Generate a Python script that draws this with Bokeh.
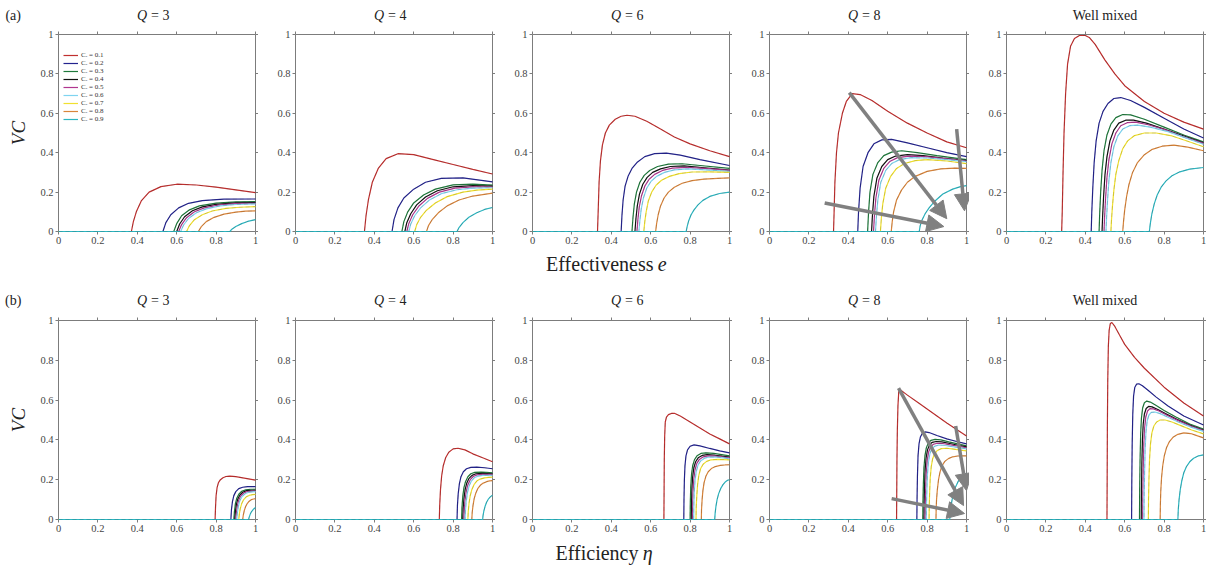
import math
from bokeh.plotting import figure
from bokeh.layouts import row, column
from bokeh.models import (Range1d, FixedTicker, NumeralTickFormatter, LinearAxis,
                          Label, Arrow, NormalHead, Legend, LegendItem)
from bokeh.embed import file_html
from bokeh.resources import INLINE

# ---------------------------------------------------------------- data
CR_VALUES = [0.1, 0.2, 0.3, 0.4, 0.5, 0.6, 0.7, 0.8, 0.9]
CR_COLORS = ["#c0302f", "#23238e", "#1f7a3c", "#111111", "#b0368f",
             "#7fd4f0", "#f0e030", "#d9853b", "#2cb5c0"]
TICKS = [0, 0.2, 0.4, 0.6, 0.8, 1]
PANEL_Q = ["3", "4", "6", "8", None]

# (a) VC against effectiveness e, one list per C_r
EFF_Q3_X = [
    [0, 0.37, 0.38, 0.395, 0.42, 0.46, 0.52, 0.6, 0.7, 0.8, 0.9, 1.0],
    [0, 0.53, 0.545, 0.57, 0.61, 0.66, 0.73, 0.84, 1.0],
    [0, 0.585, 0.6, 0.625, 0.665, 0.715, 0.8, 0.9, 1.0],
    [0, 0.60, 0.615, 0.64, 0.68, 0.73, 0.8, 0.9, 1.0],
    [0, 0.61, 0.625, 0.65, 0.69, 0.74, 0.81, 0.9, 1.0],
    [0, 0.62, 0.635, 0.66, 0.70, 0.75, 0.82, 0.9, 1.0],
    [0, 0.65, 0.665, 0.69, 0.73, 0.78, 0.85, 0.92, 1.0],
    [0, 0.71, 0.725, 0.75, 0.79, 0.84, 0.9, 0.95, 1.0],
    [0, 0.87, 0.88, 0.9, 0.93, 0.96, 1.0],
]
EFF_Q3_Y = [
    [0, 0, 0.05, 0.1, 0.155, 0.2, 0.228, 0.24, 0.236, 0.225, 0.211, 0.197],
    [0, 0, 0.045, 0.085, 0.12, 0.143, 0.157, 0.164, 0.165],
    [0, 0, 0.04, 0.08, 0.11, 0.13, 0.144, 0.15, 0.152],
    [0, 0, 0.038, 0.075, 0.105, 0.125, 0.138, 0.145, 0.147],
    [0, 0, 0.035, 0.07, 0.1, 0.12, 0.134, 0.141, 0.143],
    [0, 0, 0.033, 0.066, 0.095, 0.115, 0.13, 0.137, 0.14],
    [0, 0, 0.03, 0.06, 0.085, 0.104, 0.117, 0.123, 0.126],
    [0, 0, 0.025, 0.05, 0.072, 0.088, 0.098, 0.103, 0.105],
    [0, 0, 0.012, 0.025, 0.04, 0.051, 0.06],
]

EFF_Q4_X = [
    [0, 0.35, 0.358, 0.37, 0.39, 0.42, 0.46, 0.52, 0.6, 0.7, 0.8, 0.9, 1.0],
    [0, 0.49, 0.5, 0.52, 0.55, 0.6, 0.66, 0.74, 0.85, 1.0],
    [0, 0.54, 0.55, 0.57, 0.6, 0.65, 0.71, 0.8, 0.9, 1.0],
    [0, 0.555, 0.565, 0.585, 0.615, 0.66, 0.72, 0.8, 0.9, 1.0],
    [0, 0.565, 0.575, 0.595, 0.625, 0.67, 0.73, 0.81, 0.9, 1.0],
    [0, 0.575, 0.585, 0.605, 0.635, 0.68, 0.74, 0.82, 0.9, 1.0],
    [0, 0.605, 0.615, 0.635, 0.665, 0.71, 0.77, 0.85, 0.92, 1.0],
    [0, 0.665, 0.675, 0.695, 0.725, 0.77, 0.83, 0.9, 1.0],
    [0, 0.82, 0.83, 0.85, 0.88, 0.92, 0.96, 1.0],
]
EFF_Q4_Y = [
    [0, 0, 0.08, 0.16, 0.25, 0.32, 0.37, 0.395, 0.39, 0.365, 0.34, 0.315, 0.292],
    [0, 0, 0.06, 0.12, 0.17, 0.215, 0.25, 0.27, 0.272, 0.252],
    [0, 0, 0.05, 0.1, 0.145, 0.185, 0.215, 0.237, 0.24, 0.235],
    [0, 0, 0.045, 0.09, 0.135, 0.175, 0.207, 0.227, 0.233, 0.23],
    [0, 0, 0.04, 0.085, 0.128, 0.168, 0.2, 0.22, 0.227, 0.226],
    [0, 0, 0.038, 0.08, 0.12, 0.16, 0.192, 0.212, 0.22, 0.222],
    [0, 0, 0.034, 0.072, 0.108, 0.145, 0.177, 0.2, 0.21, 0.215],
    [0, 0, 0.03, 0.062, 0.095, 0.13, 0.16, 0.18, 0.195],
    [0, 0, 0.02, 0.045, 0.072, 0.095, 0.112, 0.122],
]

EFF_Q6_X = [
    [0, 0.33, 0.334, 0.338, 0.345, 0.355, 0.37, 0.39, 0.42, 0.45, 0.48, 0.52, 0.58, 0.65, 0.72, 0.8, 0.9, 1.0],
    [0, 0.45, 0.454, 0.46, 0.47, 0.485, 0.505, 0.53, 0.57, 0.62, 0.68, 0.75, 0.85, 1.0],
    [0, 0.505, 0.51, 0.517, 0.528, 0.545, 0.567, 0.595, 0.635, 0.69, 0.76, 0.85, 1.0],
    [0, 0.52, 0.525, 0.532, 0.543, 0.56, 0.582, 0.61, 0.65, 0.7, 0.77, 0.86, 1.0],
    [0, 0.53, 0.535, 0.542, 0.553, 0.57, 0.592, 0.62, 0.66, 0.71, 0.78, 0.87, 1.0],
    [0, 0.54, 0.545, 0.552, 0.563, 0.58, 0.602, 0.63, 0.67, 0.72, 0.79, 0.88, 1.0],
    [0, 0.565, 0.57, 0.577, 0.588, 0.605, 0.627, 0.655, 0.695, 0.745, 0.81, 0.9, 1.0],
    [0, 0.625, 0.63, 0.638, 0.65, 0.668, 0.69, 0.72, 0.76, 0.81, 0.87, 0.94, 1.0],
    [0, 0.78, 0.785, 0.793, 0.805, 0.82, 0.84, 0.865, 0.9, 0.95, 1.0],
]
EFF_Q6_Y = [
    [0, 0, 0.12, 0.25, 0.36, 0.44, 0.5, 0.54, 0.57, 0.585, 0.59, 0.585, 0.56, 0.52, 0.48, 0.445, 0.41, 0.38],
    [0, 0, 0.08, 0.16, 0.23, 0.28, 0.32, 0.35, 0.38, 0.395, 0.398, 0.388, 0.365, 0.335],
    [0, 0, 0.07, 0.14, 0.2, 0.25, 0.285, 0.31, 0.33, 0.342, 0.344, 0.335, 0.32],
    [0, 0, 0.065, 0.13, 0.19, 0.24, 0.275, 0.3, 0.318, 0.33, 0.333, 0.325, 0.312],
    [0, 0, 0.06, 0.125, 0.18, 0.23, 0.265, 0.29, 0.31, 0.322, 0.326, 0.32, 0.31],
    [0, 0, 0.055, 0.115, 0.17, 0.22, 0.255, 0.28, 0.3, 0.313, 0.318, 0.313, 0.305],
    [0, 0, 0.05, 0.1, 0.155, 0.2, 0.235, 0.26, 0.28, 0.294, 0.302, 0.303, 0.3],
    [0, 0, 0.04, 0.085, 0.13, 0.17, 0.2, 0.225, 0.245, 0.258, 0.266, 0.27, 0.272],
    [0, 0, 0.025, 0.055, 0.085, 0.11, 0.135, 0.158, 0.178, 0.193, 0.2],
]

EFF_Q8_X = [
    [0, 0.325, 0.328, 0.332, 0.34, 0.35, 0.37, 0.39, 0.42, 0.46, 0.52, 0.6, 0.7, 0.8, 0.9, 1.0],
    [0, 0.448, 0.452, 0.46, 0.475, 0.5, 0.53, 0.57, 0.62, 0.7, 0.8, 0.9, 1.0],
    [0, 0.498, 0.503, 0.51, 0.525, 0.55, 0.58, 0.62, 0.67, 0.75, 0.85, 1.0],
    [0, 0.518, 0.523, 0.53, 0.545, 0.57, 0.6, 0.64, 0.7, 0.78, 0.88, 1.0],
    [0, 0.528, 0.533, 0.54, 0.555, 0.58, 0.61, 0.65, 0.71, 0.79, 0.89, 1.0],
    [0, 0.538, 0.543, 0.55, 0.565, 0.59, 0.62, 0.66, 0.72, 0.8, 0.9, 1.0],
    [0, 0.563, 0.568, 0.575, 0.59, 0.615, 0.645, 0.685, 0.74, 0.8, 0.9, 1.0],
    [0, 0.618, 0.623, 0.63, 0.645, 0.67, 0.7, 0.74, 0.8, 0.87, 0.94, 1.0],
    [0, 0.76, 0.765, 0.775, 0.79, 0.81, 0.84, 0.88, 0.93, 0.97, 1.0],
]
EFF_Q8_Y = [
    [0, 0, 0.1, 0.25, 0.4, 0.5, 0.6, 0.66, 0.7, 0.695, 0.665, 0.61, 0.55, 0.5, 0.455, 0.425],
    [0, 0, 0.1, 0.22, 0.33, 0.4, 0.445, 0.465, 0.468, 0.45, 0.425, 0.4, 0.38],
    [0, 0, 0.1, 0.2, 0.29, 0.35, 0.385, 0.403, 0.41, 0.4, 0.385, 0.365],
    [0, 0, 0.09, 0.18, 0.27, 0.33, 0.365, 0.383, 0.39, 0.385, 0.373, 0.36],
    [0, 0, 0.085, 0.17, 0.26, 0.32, 0.355, 0.375, 0.383, 0.38, 0.37, 0.358],
    [0, 0, 0.08, 0.16, 0.25, 0.31, 0.345, 0.365, 0.375, 0.373, 0.365, 0.355],
    [0, 0, 0.07, 0.14, 0.22, 0.28, 0.32, 0.345, 0.36, 0.365, 0.358, 0.345],
    [0, 0, 0.05, 0.1, 0.16, 0.21, 0.25, 0.28, 0.305, 0.318, 0.322, 0.32],
    [0, 0, 0.03, 0.06, 0.09, 0.12, 0.155, 0.19, 0.215, 0.228, 0.233],
]

EFF_WM_X = [
    [0, 0.28, 0.283, 0.287, 0.292, 0.3, 0.31, 0.325, 0.345, 0.37, 0.4, 0.42, 0.45, 0.5, 0.55, 0.6, 0.7, 0.8, 0.9, 1.0],
    [0, 0.43, 0.433, 0.438, 0.445, 0.455, 0.47, 0.49, 0.515, 0.545, 0.58, 0.63, 0.7, 0.8, 0.9, 1.0],
    [0, 0.47, 0.473, 0.478, 0.485, 0.495, 0.51, 0.53, 0.555, 0.59, 0.63, 0.7, 0.8, 0.9, 1.0],
    [0, 0.485, 0.488, 0.493, 0.5, 0.51, 0.525, 0.545, 0.57, 0.605, 0.645, 0.71, 0.8, 0.9, 1.0],
    [0, 0.495, 0.498, 0.503, 0.51, 0.52, 0.535, 0.555, 0.58, 0.615, 0.655, 0.72, 0.81, 0.9, 1.0],
    [0, 0.505, 0.508, 0.513, 0.52, 0.53, 0.545, 0.565, 0.59, 0.625, 0.665, 0.73, 0.82, 0.91, 1.0],
    [0, 0.53, 0.533, 0.538, 0.545, 0.555, 0.57, 0.59, 0.615, 0.65, 0.7, 0.76, 0.84, 0.92, 1.0],
    [0, 0.59, 0.594, 0.6, 0.61, 0.622, 0.64, 0.665, 0.7, 0.74, 0.79, 0.85, 0.92, 1.0],
    [0, 0.725, 0.73, 0.738, 0.75, 0.765, 0.785, 0.81, 0.84, 0.88, 0.93, 1.0],
]
EFF_WM_Y = [
    [0, 0, 0.1, 0.3, 0.5, 0.7, 0.85, 0.94, 0.98, 0.995, 0.995, 0.985, 0.95, 0.87, 0.8, 0.74, 0.66, 0.6, 0.555, 0.52],
    [0, 0, 0.1, 0.22, 0.35, 0.46, 0.55, 0.61, 0.65, 0.675, 0.68, 0.665, 0.63, 0.575, 0.52, 0.475],
    [0, 0, 0.09, 0.2, 0.31, 0.41, 0.49, 0.545, 0.578, 0.594, 0.592, 0.57, 0.53, 0.49, 0.455],
    [0, 0, 0.08, 0.18, 0.29, 0.38, 0.46, 0.515, 0.55, 0.565, 0.565, 0.55, 0.52, 0.485, 0.45],
    [0, 0, 0.075, 0.17, 0.275, 0.365, 0.445, 0.5, 0.537, 0.553, 0.555, 0.542, 0.515, 0.48, 0.447],
    [0, 0, 0.07, 0.16, 0.26, 0.35, 0.43, 0.485, 0.52, 0.537, 0.54, 0.53, 0.507, 0.475, 0.443],
    [0, 0, 0.06, 0.13, 0.21, 0.29, 0.36, 0.42, 0.46, 0.487, 0.5, 0.5, 0.485, 0.458, 0.43],
    [0, 0, 0.05, 0.11, 0.18, 0.24, 0.3, 0.35, 0.39, 0.417, 0.433, 0.438, 0.428, 0.41],
    [0, 0, 0.04, 0.09, 0.14, 0.185, 0.225, 0.257, 0.283, 0.303, 0.317, 0.325],
]

# (b) VC against efficiency eta, one list per C_r
ETA_Q3_X = [
    [0, 0.795, 0.797, 0.8, 0.805, 0.812, 0.822, 0.835, 0.85, 0.87, 0.9, 0.95, 1.0],
    [0, 0.875, 0.878, 0.883, 0.89, 0.9, 0.915, 0.935, 0.96, 1.0],
    [0, 0.89, 0.893, 0.898, 0.905, 0.915, 0.93, 0.95, 0.975, 1.0],
    [0, 0.895, 0.898, 0.903, 0.91, 0.92, 0.935, 0.955, 0.978, 1.0],
    [0, 0.9, 0.903, 0.908, 0.915, 0.925, 0.94, 0.958, 0.98, 1.0],
    [0, 0.905, 0.908, 0.913, 0.92, 0.93, 0.945, 0.962, 0.982, 1.0],
    [0, 0.915, 0.918, 0.923, 0.93, 0.94, 0.953, 0.968, 0.985, 1.0],
    [0, 0.935, 0.938, 0.943, 0.95, 0.958, 0.968, 0.98, 0.99, 1.0],
    [0, 0.965, 0.968, 0.973, 0.98, 0.988, 1.0],
]
ETA_Q3_Y = [
    [0, 0, 0.06, 0.12, 0.16, 0.185, 0.2, 0.21, 0.216, 0.218, 0.215, 0.207, 0.198],
    [0, 0, 0.05, 0.09, 0.12, 0.14, 0.155, 0.162, 0.165, 0.165],
    [0, 0, 0.04, 0.08, 0.107, 0.127, 0.142, 0.149, 0.152, 0.152],
    [0, 0, 0.038, 0.075, 0.102, 0.122, 0.137, 0.145, 0.147, 0.147],
    [0, 0, 0.035, 0.07, 0.098, 0.118, 0.133, 0.14, 0.143, 0.143],
    [0, 0, 0.033, 0.066, 0.093, 0.113, 0.128, 0.136, 0.139, 0.14],
    [0, 0, 0.028, 0.056, 0.08, 0.1, 0.114, 0.121, 0.125, 0.126],
    [0, 0, 0.022, 0.045, 0.065, 0.08, 0.092, 0.1, 0.103, 0.105],
    [0, 0, 0.012, 0.026, 0.04, 0.05, 0.06],
]

ETA_Q4_X = [
    [0, 0.73, 0.732, 0.736, 0.742, 0.75, 0.762, 0.778, 0.8, 0.825, 0.86, 0.9, 0.95, 1.0],
    [0, 0.82, 0.822, 0.826, 0.832, 0.84, 0.852, 0.868, 0.89, 0.92, 0.96, 1.0],
    [0, 0.843, 0.845, 0.849, 0.855, 0.863, 0.875, 0.89, 0.91, 0.94, 0.97, 1.0],
    [0, 0.849, 0.851, 0.855, 0.861, 0.869, 0.881, 0.896, 0.916, 0.945, 0.972, 1.0],
    [0, 0.855, 0.857, 0.861, 0.867, 0.875, 0.887, 0.902, 0.921, 0.948, 0.974, 1.0],
    [0, 0.861, 0.863, 0.867, 0.873, 0.881, 0.893, 0.908, 0.926, 0.952, 0.976, 1.0],
    [0, 0.875, 0.877, 0.881, 0.887, 0.895, 0.906, 0.92, 0.937, 0.96, 0.98, 1.0],
    [0, 0.895, 0.897, 0.901, 0.907, 0.915, 0.925, 0.938, 0.953, 0.97, 0.985, 1.0],
    [0, 0.95, 0.952, 0.956, 0.962, 0.97, 0.98, 0.99, 1.0],
]
ETA_Q4_Y = [
    [0, 0, 0.07, 0.15, 0.22, 0.27, 0.31, 0.338, 0.355, 0.358, 0.35, 0.33, 0.31, 0.29],
    [0, 0, 0.07, 0.13, 0.18, 0.215, 0.24, 0.255, 0.262, 0.263, 0.26, 0.255],
    [0, 0, 0.06, 0.115, 0.16, 0.19, 0.215, 0.23, 0.237, 0.238, 0.237, 0.235],
    [0, 0, 0.055, 0.105, 0.15, 0.182, 0.207, 0.222, 0.23, 0.232, 0.231, 0.23],
    [0, 0, 0.05, 0.1, 0.143, 0.175, 0.2, 0.216, 0.224, 0.227, 0.227, 0.226],
    [0, 0, 0.047, 0.094, 0.136, 0.168, 0.193, 0.21, 0.218, 0.222, 0.222, 0.222],
    [0, 0, 0.04, 0.082, 0.12, 0.15, 0.175, 0.193, 0.203, 0.209, 0.212, 0.213],
    [0, 0, 0.035, 0.07, 0.105, 0.132, 0.155, 0.172, 0.183, 0.19, 0.194, 0.195],
    [0, 0, 0.02, 0.042, 0.065, 0.087, 0.104, 0.115, 0.122],
]

ETA_Q6_X = [
    [0, 0.667, 0.668, 0.669, 0.671, 0.674, 0.68, 0.69, 0.705, 0.72, 0.75, 0.8, 0.85, 0.9, 0.95, 1.0],
    [0, 0.768, 0.769, 0.771, 0.774, 0.779, 0.787, 0.8, 0.82, 0.85, 0.9, 0.95, 1.0],
    [0, 0.8, 0.801, 0.803, 0.807, 0.813, 0.822, 0.835, 0.855, 0.88, 0.92, 0.96, 1.0],
    [0, 0.806, 0.807, 0.809, 0.813, 0.819, 0.828, 0.841, 0.861, 0.886, 0.925, 0.963, 1.0],
    [0, 0.812, 0.813, 0.815, 0.819, 0.825, 0.834, 0.847, 0.867, 0.892, 0.93, 0.966, 1.0],
    [0, 0.818, 0.819, 0.821, 0.825, 0.831, 0.84, 0.853, 0.873, 0.898, 0.935, 0.969, 1.0],
    [0, 0.83, 0.831, 0.834, 0.838, 0.844, 0.853, 0.866, 0.884, 0.907, 0.94, 0.97, 1.0],
    [0, 0.857, 0.858, 0.861, 0.865, 0.871, 0.88, 0.892, 0.908, 0.928, 0.953, 0.977, 1.0],
    [0, 0.925, 0.927, 0.931, 0.937, 0.945, 0.955, 0.967, 0.98, 0.99, 1.0],
]
ETA_Q6_Y = [
    [0, 0, 0.15, 0.3, 0.42, 0.49, 0.515, 0.527, 0.533, 0.534, 0.52, 0.49, 0.46, 0.43, 0.405, 0.38],
    [0, 0, 0.1, 0.2, 0.27, 0.32, 0.35, 0.368, 0.375, 0.37, 0.357, 0.345, 0.335],
    [0, 0, 0.08, 0.16, 0.225, 0.27, 0.3, 0.32, 0.332, 0.335, 0.332, 0.326, 0.32],
    [0, 0, 0.075, 0.15, 0.215, 0.26, 0.29, 0.31, 0.322, 0.326, 0.323, 0.318, 0.314],
    [0, 0, 0.07, 0.142, 0.205, 0.25, 0.282, 0.302, 0.315, 0.32, 0.318, 0.314, 0.31],
    [0, 0, 0.065, 0.135, 0.195, 0.24, 0.273, 0.294, 0.308, 0.314, 0.313, 0.31, 0.306],
    [0, 0, 0.06, 0.12, 0.175, 0.22, 0.255, 0.278, 0.292, 0.3, 0.302, 0.301, 0.3],
    [0, 0, 0.05, 0.1, 0.145, 0.185, 0.217, 0.24, 0.256, 0.266, 0.272, 0.274, 0.275],
    [0, 0, 0.03, 0.065, 0.1, 0.13, 0.155, 0.175, 0.19, 0.197, 0.2],
]

ETA_Q8_X = [
    [0, 0.645, 0.646, 0.647, 0.649, 0.652, 0.656, 0.66, 0.7, 0.75, 0.8, 0.85, 0.9, 0.95, 1.0],
    [0, 0.748, 0.749, 0.751, 0.754, 0.759, 0.766, 0.776, 0.79, 0.81, 0.85, 0.9, 0.95, 1.0],
    [0, 0.778, 0.779, 0.781, 0.784, 0.789, 0.796, 0.806, 0.82, 0.84, 0.87, 0.91, 0.955, 1.0],
    [0, 0.784, 0.785, 0.787, 0.79, 0.795, 0.802, 0.812, 0.826, 0.846, 0.875, 0.915, 0.957, 1.0],
    [0, 0.79, 0.791, 0.793, 0.796, 0.801, 0.808, 0.818, 0.832, 0.852, 0.88, 0.918, 0.96, 1.0],
    [0, 0.796, 0.797, 0.799, 0.802, 0.807, 0.814, 0.824, 0.838, 0.858, 0.885, 0.922, 0.962, 1.0],
    [0, 0.81, 0.811, 0.813, 0.816, 0.821, 0.828, 0.838, 0.852, 0.872, 0.9, 0.935, 0.97, 1.0],
    [0, 0.845, 0.846, 0.848, 0.852, 0.858, 0.866, 0.876, 0.89, 0.908, 0.93, 0.955, 0.978, 1.0],
    [0, 0.915, 0.917, 0.921, 0.927, 0.935, 0.945, 0.957, 0.97, 0.985, 1.0],
]
ETA_Q8_Y = [
    [0, 0, 0.15, 0.3, 0.45, 0.57, 0.64, 0.655, 0.625, 0.59, 0.555, 0.52, 0.485, 0.452, 0.42],
    [0, 0, 0.1, 0.22, 0.32, 0.38, 0.415, 0.433, 0.44, 0.437, 0.422, 0.405, 0.392, 0.38],
    [0, 0, 0.09, 0.18, 0.26, 0.32, 0.36, 0.385, 0.398, 0.403, 0.4, 0.39, 0.38, 0.37],
    [0, 0, 0.085, 0.17, 0.25, 0.31, 0.35, 0.375, 0.388, 0.392, 0.39, 0.382, 0.373, 0.365],
    [0, 0, 0.08, 0.16, 0.24, 0.3, 0.34, 0.365, 0.378, 0.383, 0.382, 0.375, 0.368, 0.36],
    [0, 0, 0.075, 0.15, 0.23, 0.29, 0.33, 0.355, 0.368, 0.374, 0.373, 0.367, 0.361, 0.355],
    [0, 0, 0.07, 0.14, 0.21, 0.265, 0.305, 0.33, 0.347, 0.356, 0.358, 0.354, 0.349, 0.345],
    [0, 0, 0.05, 0.1, 0.15, 0.2, 0.24, 0.27, 0.292, 0.306, 0.315, 0.319, 0.32, 0.32],
    [0, 0, 0.03, 0.065, 0.1, 0.135, 0.165, 0.19, 0.21, 0.224, 0.232],
]

ETA_WM_X = [
    [0, 0.51, 0.511, 0.512, 0.514, 0.517, 0.521, 0.527, 0.535, 0.55, 0.575, 0.6, 0.65, 0.7, 0.8, 0.9, 1.0],
    [0, 0.635, 0.636, 0.638, 0.641, 0.645, 0.651, 0.66, 0.672, 0.69, 0.72, 0.76, 0.82, 0.9, 1.0],
    [0, 0.675, 0.676, 0.678, 0.681, 0.685, 0.691, 0.7, 0.712, 0.73, 0.76, 0.8, 0.86, 0.93, 1.0],
    [0, 0.684, 0.685, 0.687, 0.69, 0.694, 0.7, 0.709, 0.721, 0.739, 0.768, 0.807, 0.865, 0.933, 1.0],
    [0, 0.691, 0.692, 0.694, 0.697, 0.701, 0.707, 0.716, 0.728, 0.746, 0.774, 0.812, 0.869, 0.935, 1.0],
    [0, 0.698, 0.699, 0.701, 0.704, 0.708, 0.714, 0.723, 0.735, 0.753, 0.78, 0.817, 0.872, 0.937, 1.0],
    [0, 0.72, 0.721, 0.723, 0.726, 0.731, 0.738, 0.748, 0.762, 0.78, 0.805, 0.84, 0.885, 0.94, 1.0],
    [0, 0.78, 0.781, 0.783, 0.787, 0.793, 0.801, 0.812, 0.826, 0.845, 0.87, 0.9, 0.935, 0.97, 1.0],
    [0, 0.87, 0.872, 0.876, 0.882, 0.89, 0.9, 0.913, 0.93, 0.95, 0.975, 1.0],
]
ETA_WM_Y = [
    [0, 0, 0.2, 0.45, 0.7, 0.87, 0.95, 0.985, 0.99, 0.97, 0.925, 0.88, 0.815, 0.76, 0.665, 0.585, 0.52],
    [0, 0, 0.18, 0.38, 0.53, 0.62, 0.663, 0.68, 0.682, 0.672, 0.648, 0.615, 0.57, 0.52, 0.475],
    [0, 0, 0.15, 0.3, 0.43, 0.51, 0.56, 0.587, 0.595, 0.59, 0.573, 0.548, 0.515, 0.48, 0.455],
    [0, 0, 0.14, 0.28, 0.4, 0.48, 0.53, 0.558, 0.568, 0.566, 0.553, 0.532, 0.503, 0.473, 0.45],
    [0, 0, 0.13, 0.26, 0.38, 0.46, 0.515, 0.545, 0.557, 0.556, 0.545, 0.525, 0.498, 0.47, 0.447],
    [0, 0, 0.12, 0.24, 0.36, 0.44, 0.495, 0.525, 0.538, 0.54, 0.532, 0.515, 0.49, 0.464, 0.443],
    [0, 0, 0.1, 0.2, 0.3, 0.38, 0.435, 0.47, 0.49, 0.5, 0.5, 0.49, 0.472, 0.45, 0.43],
    [0, 0, 0.07, 0.14, 0.21, 0.27, 0.32, 0.36, 0.39, 0.413, 0.428, 0.435, 0.432, 0.42, 0.41],
    [0, 0, 0.05, 0.1, 0.15, 0.195, 0.235, 0.265, 0.29, 0.308, 0.32, 0.325],
]

# trend arrows drawn on the Q = 8 panels (start -> end, data units)
ARROW_A_X0 = [0.405, 0.95, 0.28]
ARROW_A_Y0 = [0.705, 0.52, 0.145]
ARROW_A_X1 = [0.9, 0.99, 0.885]
ARROW_A_Y1 = [0.065, 0.105, 0.025]
ARROW_B_X0 = [0.655, 0.945, 0.62]
ARROW_B_Y0 = [0.66, 0.47, 0.105]
ARROW_B_X1 = [0.985, 1.0, 0.99]
ARROW_B_Y1 = [0.07, 0.145, 0.03]

# ---------------------------------------------------------------- styling
SERIF = "Liberation Serif"
AXIS_GRAY = "#7c7c7c"
TEXT = "#222222"
FRAME_W = 197      # pixels per unit along x
ROW_H = 285        # height of each row of panels


def add_axis(p, place, loc, labels, tick_in=0, tick_out=3):
    # axes are pinned to the unit box so the canvas around it stays free for text;
    # drawn beneath the curves so the zero-valued stretches stay visible
    ax = LinearAxis(fixed_location=loc, bounds=(0, 1), level="underlay")
    ax.ticker = FixedTicker(ticks=TICKS)
    ax.formatter = NumeralTickFormatter(format="0.[0]")
    ax.axis_line_color = AXIS_GRAY
    ax.axis_line_width = 1
    ax.major_tick_line_color = AXIS_GRAY
    ax.major_tick_in = tick_in
    ax.major_tick_out = tick_out
    ax.minor_tick_line_color = None
    ax.major_label_text_font = SERIF
    if labels:
        ax.major_label_text_font_size = "10.5px"
        ax.major_label_text_color = "#444444"
        ax.major_label_standoff = 2
    else:
        ax.major_label_text_color = None
        ax.major_label_standoff = 0
    p.add_layout(ax, place)


def text_label(p, x, y, text, size="14px", style="normal", align="center", angle=0.0):
    p.add_layout(Label(x=x, y=y, text=text, text_font=SERIF, text_font_size=size,
                       text_font_style=style, text_color=TEXT, text_align=align,
                       text_baseline="middle", angle=angle))


def make_panel(idx, xs, ys, q, top_px, unit_y, title_y):
    left = 58 if idx == 0 else 37
    width = left + FRAME_W + 3
    bottom_px = ROW_H - top_px - unit_y
    p = figure(width=width, height=ROW_H,
               x_range=Range1d(-left / FRAME_W, (width - left) / FRAME_W),
               y_range=Range1d(-bottom_px / unit_y, 1 + top_px / unit_y),
               output_backend="svg", toolbar_location=None,
               x_axis_location=None, y_axis_location=None,
               min_border=0, min_border_left=0, min_border_right=0,
               min_border_top=0, min_border_bottom=0)
    p.outline_line_color = None
    p.grid.visible = False
    p.background_fill_color = "white"
    add_axis(p, "below", 0, True)
    add_axis(p, "left", 0, True)
    add_axis(p, "above", 1, False)
    add_axis(p, "right", 1, False)

    renderers = []
    for k in range(len(CR_VALUES)):
        r = p.line(xs[k], ys[k], line_color=CR_COLORS[k], line_width=1.2)
        p.line(xs[k], ys[k], line_color="#222222", line_alpha=0.18,
               line_width=0.8, line_dash="4 3")
        renderers.append(r)

    if q is None:
        text_label(p, 0.5, title_y, "Well mixed")
    else:
        text_label(p, 0.45, title_y, "Q", style="italic", align="right")
        text_label(p, 0.47, title_y, "= " + q, align="left")
    return p, renderers


def add_arrows(p, x0, y0, x1, y1):
    for a, b, c, d in zip(x0, y0, x1, y1):
        p.add_layout(Arrow(x_start=a, y_start=b, x_end=c, y_end=d,
                           line_color="#808080", line_width=3.5,
                           end=NormalHead(size=17, fill_color="#808080",
                                          line_color="#808080")))


EFF_X = [EFF_Q3_X, EFF_Q4_X, EFF_Q6_X, EFF_Q8_X, EFF_WM_X]
EFF_Y = [EFF_Q3_Y, EFF_Q4_Y, EFF_Q6_Y, EFF_Q8_Y, EFF_WM_Y]
ETA_X = [ETA_Q3_X, ETA_Q4_X, ETA_Q6_X, ETA_Q8_X, ETA_WM_X]
ETA_Y = [ETA_Q3_Y, ETA_Q4_Y, ETA_Q6_Y, ETA_Q8_Y, ETA_WM_Y]

# row (a): effectiveness
row_a = []
for i in range(5):
    p, rs = make_panel(i, EFF_X[i], EFF_Y[i], PANEL_Q[i], top_px=34, unit_y=197,
                       title_y=1.096)
    if i == 0:
        legend = Legend(items=[LegendItem(label="C\u1d63 = %g" % c, renderers=[r])
                               for c, r in zip(CR_VALUES, rs)],
                        location=(63, 162), margin=0, padding=3, spacing=0,
                        label_height=8, glyph_height=8, glyph_width=15,
                        label_standoff=3, label_text_font=SERIF,
                        label_text_font_size="7px", label_text_color="#333333",
                        border_line_color=None, background_fill_alpha=0)
        p.add_layout(legend)
        text_label(p, -0.23, 1.096, "(a)")
        text_label(p, -0.205, 0.5, "VC", size="19px", style="italic",
                   angle=math.pi / 2)
    if i == 2:
        text_label(p, 0.614, -0.163, "Effectiveness", size="20px", align="right")
        text_label(p, 0.636, -0.163, "e", size="20px", style="italic", align="left")
    if i == 3:
        add_arrows(p, ARROW_A_X0, ARROW_A_Y0, ARROW_A_X1, ARROW_A_Y1)
    row_a.append(p)

# row (b): efficiency
row_b = []
for i in range(5):
    p, rs = make_panel(i, ETA_X[i], ETA_Y[i], PANEL_Q[i], top_px=35, unit_y=199,
                       title_y=1.1)
    if i == 0:
        text_label(p, -0.23, 1.1, "(b)")
        text_label(p, -0.205, 0.5, "VC", size="19px", style="italic",
                   angle=math.pi / 2)
    if i == 2:
        text_label(p, 0.538, -0.166, "Efficiency", size="20px", align="right")
        text_label(p, 0.56, -0.166, "\u03b7", size="20px", style="italic", align="left")
    if i == 3:
        add_arrows(p, ARROW_B_X0, ARROW_B_Y0, ARROW_B_X1, ARROW_B_Y1)
    row_b.append(p)

layout = column(row(*row_a), row(*row_b))
open("out.html", "w").write(file_html(layout, INLINE))
